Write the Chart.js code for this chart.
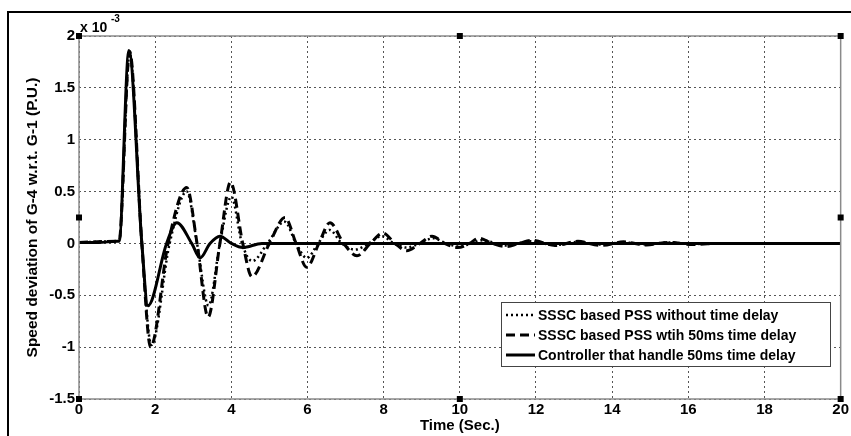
<!DOCTYPE html>
<html>
<head>
<meta charset="utf-8">
<script src="https://cdn.jsdelivr.net/npm/chart.js@4.4.1/dist/chart.umd.min.js"></script>
<style>
  html, body { margin: 0; padding: 0; background: #fff; }
  #wrap { width: 851px; height: 436px; position: relative; }
</style>
</head>
<body>
<div id="wrap"><canvas id="speedChart"></canvas></div>
<script>
// data (speed deviation, units of 1e-3 p.u.)
const seriesNames = [
  "SSSC based PSS without time delay",
  "SSSC based PSS wtih 50ms time delay",
  "Controller that handle 50ms time delay",
];

const timeNoDelay = [0, 1.0, 1.05, 1.33, 1.65, 1.9, 2.38, 2.83, 3.1, 3.4, 3.7, 4.0, 4.28, 4.55, 4.95, 5.4, 5.7, 5.98, 6.28, 6.58, 6.9, 7.25, 7.6, 7.95, 8.27, 8.6, 8.95, 9.3, 9.65, 10.0, 10.3, 10.6, 11.2, 11.85, 12.5, 13.1, 13.7, 14.3, 14.9, 15.5, 16.1, 16.7];
const speedNoDelay = [0.01, 0.02, 0.02, 1.83, 0, -0.98, 0, 0.5, 0, -0.6, 0, 0.45, 0, -0.17, 0, 0.21, 0, -0.14, 0, 0.13, 0, -0.06, 0, 0.07, 0, -0.04, 0, 0.05, 0, -0.03, 0, 0.03, -0.02, 0.02, -0.015, 0.015, -0.01, 0.01, -0.01, 0.01, -0.005, 0];

const timeDelay = [0, 1.0, 1.05, 1.33, 1.65, 1.88, 2.34, 2.83, 3.1, 3.39, 3.7, 3.98, 4.3, 4.54, 5.0, 5.41, 5.7, 5.98, 6.3, 6.59, 6.95, 7.3, 7.65, 7.98, 8.3, 8.6, 8.95, 9.27, 9.6, 9.95, 10.25, 10.5, 10.85, 11.2, 11.55, 11.9, 12.5, 13.1, 13.7, 14.3, 14.9, 15.5, 16.1, 16.7];
const speedDelay = [0.01, 0.02, 0.02, 1.85, 0, -1.0, 0, 0.54, 0, -0.71, 0, 0.59, 0, -0.32, 0, 0.25, 0, -0.23, 0, 0.2, 0, -0.12, 0, 0.1, 0, -0.07, 0, 0.07, 0, -0.04, 0, 0.05, 0, -0.03, 0, 0.03, -0.02, 0.02, -0.02, 0.015, -0.015, 0.01, -0.01, 0];

const timeCtrl = [0, 0.5, 1.0, 1.05, 1.31, 1.65, 1.81, 2.3, 2.57, 2.96, 3.18, 3.44, 3.7, 4.0, 4.3, 4.8, 6, 20];
const speedCtrl = [0.01, 0.01, 0.02, 0.02, 1.86, 0, -0.6, 0, 0.2, 0, -0.14, 0, 0.07, 0, -0.04, 0, 0, 0];

const xTicks = [0, 2, 4, 6, 8, 10, 12, 14, 16, 18, 20];
const yTicks = [-1.5, -1, -0.5, 0, 0.5, 1, 1.5, 2];

const toPoints = (ts, vs) => ts.map((t, i) => ({ x: t, y: vs[i] }));

const lineDashes = [[2, 3], [9, 5], []];
const lineWidths = [2.5, 3, 3];

// frame, box, handles, legend, x10^-3 label
const decorPlugin = {
  id: "decor",
  afterDraw(chart) {
    const ctx = chart.ctx;
    const a = chart.chartArea;
    ctx.save();
    // outer figure frame
    ctx.strokeStyle = "#000";
    ctx.lineWidth = 2;
    ctx.beginPath();
    ctx.moveTo(8, 436);
    ctx.lineTo(8, 12);
    ctx.lineTo(851, 12);
    ctx.stroke();

    // axes box
    ctx.strokeStyle = "#8a8a8a";
    ctx.lineWidth = 1.5;
    ctx.strokeRect(a.left, a.top, a.right - a.left, a.bottom - a.top);

    // selection handles
    ctx.fillStyle = "#000";
    const midX = (a.left + a.right) / 2;
    const midY = (a.top + a.bottom) / 2;
    [[a.left, a.top], [midX, a.top], [a.right, a.top],
     [a.left, midY], [a.right, midY],
     [a.left, a.bottom], [midX, a.bottom], [a.right, a.bottom]].forEach(([hx, hy]) => {
      ctx.fillRect(hx - 3, hy - 3, 6, 6);
    });

    // x 10^-3
    ctx.fillStyle = "#000";
    ctx.textBaseline = "alphabetic";
    ctx.textAlign = "left";
    ctx.font = "bold 14px 'Liberation Sans', Arial, sans-serif";
    ctx.fillText("x 10", 80, 32);
    ctx.font = "bold 10px 'Liberation Sans', Arial, sans-serif";
    ctx.fillText("-3", 111, 22);

    // legend
    const lx = 501, ly = 302, lw = 329, lh = 64;
    ctx.fillStyle = "#fff";
    ctx.fillRect(lx, ly, lw, lh);
    ctx.strokeStyle = "#444";
    ctx.lineWidth = 1;
    ctx.strokeRect(lx + 0.5, ly + 0.5, lw, lh);
    ctx.font = "bold 14px 'Liberation Sans', Arial, sans-serif";
    ctx.textBaseline = "middle";
    seriesNames.forEach((name, i) => {
      const yy = ly + 13 + i * 20;
      ctx.strokeStyle = "#000";
      ctx.lineWidth = lineWidths[i];
      ctx.setLineDash(lineDashes[i]);
      ctx.beginPath();
      ctx.moveTo(lx + 5, yy);
      ctx.lineTo(lx + 34, yy);
      ctx.stroke();
      ctx.setLineDash([]);
      ctx.fillStyle = "#000";
      ctx.fillText(name, lx + 37, yy + 1);
    });
    ctx.restore();
  },
};

new Chart(document.getElementById("speedChart"), {
  type: "line",
  data: {
    datasets: [
      {
        label: seriesNames[0],
        data: toPoints(timeNoDelay, speedNoDelay),
        borderColor: "#000",
        borderWidth: lineWidths[0],
        borderDash: lineDashes[0],
        pointRadius: 0,
        cubicInterpolationMode: "monotone",
      },
      {
        label: seriesNames[1],
        data: toPoints(timeDelay, speedDelay),
        borderColor: "#000",
        borderWidth: lineWidths[1],
        borderDash: lineDashes[1],
        pointRadius: 0,
        cubicInterpolationMode: "monotone",
      },
      {
        label: seriesNames[2],
        data: toPoints(timeCtrl, speedCtrl),
        borderColor: "#000",
        borderWidth: lineWidths[2],
        borderDash: lineDashes[2],
        pointRadius: 0,
        cubicInterpolationMode: "monotone",
      },
    ],
  },
  options: {
    responsive: true,
    maintainAspectRatio: false,
    animation: false,
    layout: { padding: { top: 36, right: 10, left: 0, bottom: 0 } },
    plugins: {
      legend: { display: false },
      tooltip: { enabled: false },
    },
    scales: {
      x: {
        type: "linear",
        min: 0,
        max: 20,
        afterFit: (scale) => { scale.height = 37; },
        afterBuildTicks: (scale) => { scale.ticks = xTicks.map((v) => ({ value: v })); },
        ticks: {
          color: "#000",
          padding: 2,
          maxRotation: 0,
          font: { family: "'Liberation Sans Narrow', 'Liberation Sans', Arial", size: 15, weight: "bold" },
        },
        grid: { color: "#555", lineWidth: 1, drawTicks: false },
        border: { display: false, dash: [2, 3] },
        title: {
          display: true,
          text: "Time (Sec.)",
          color: "#000",
          padding: { top: 0, bottom: 1 },
          font: { family: "'Liberation Sans Narrow', 'Liberation Sans', Arial", size: 15, weight: "bold" },
        },
      },
      y: {
        type: "linear",
        min: -1.5,
        max: 2,
        afterFit: (scale) => { scale.width = 79; },
        afterBuildTicks: (scale) => { scale.ticks = yTicks.map((v) => ({ value: v })); },
        ticks: {
          color: "#000",
          padding: 4,
          callback: (v) => String(v),
          font: { family: "'Liberation Sans', Arial", size: 15, weight: "bold" },
        },
        grid: { color: "#555", lineWidth: 1, drawTicks: false },
        border: { display: false, dash: [2, 3] },
        title: {
          display: true,
          text: "Speed deviation of G-4 w.r.t. G-1 (P.U.)",
          color: "#000",
          padding: { top: 23, bottom: 0 },
          font: { family: "'Liberation Sans', Arial", size: 15.5, weight: "bold" },
        },
      },
    },
  },
  plugins: [decorPlugin],
});
</script>
</body>
</html>
